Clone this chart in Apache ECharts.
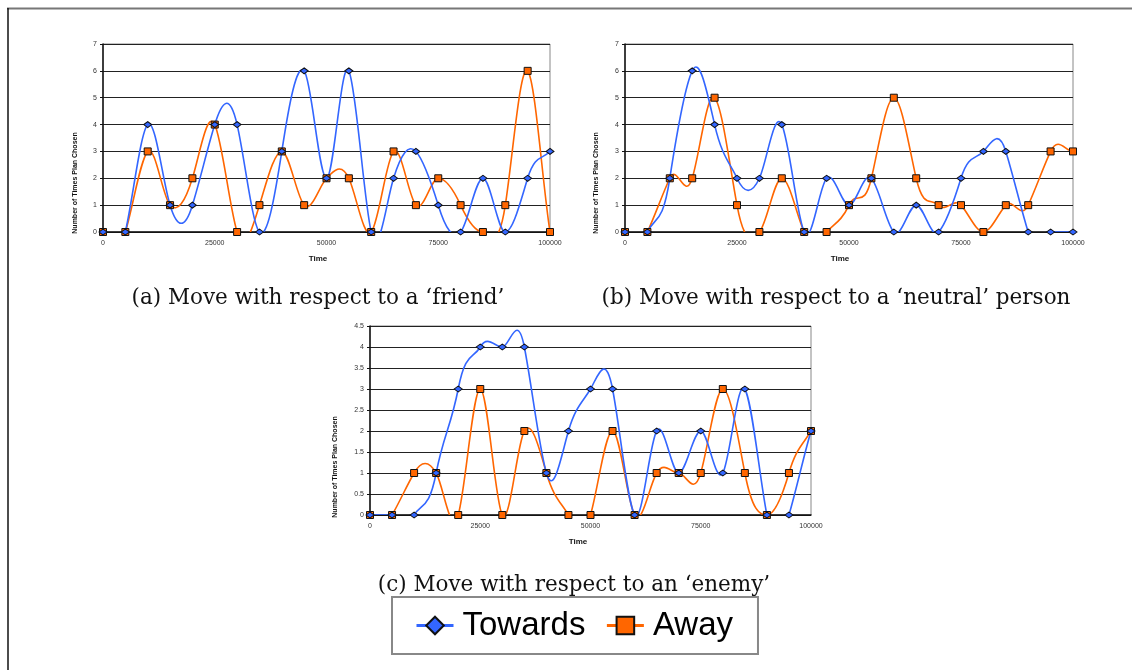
<!DOCTYPE html>
<html>
<head>
<meta charset="utf-8">
<script src="https://cdn.jsdelivr.net/npm/echarts@6/dist/echarts.min.js"></script>
<style>
  html, body { margin: 0; padding: 0; background: #fff; }
  #chart { width: 1132px; height: 670px; }
</style>
</head>
<body>
<div id="chart"></div>
<script>
// Sample times (x axis), shared by all three panels
const times = [0, 5000, 10000, 15000, 20000, 25000, 30000, 35000, 40000, 45000, 50000,
               55000, 60000, 65000, 70000, 75000, 80000, 85000, 90000, 95000, 100000];

// (a) friend
const friendTowards = [0, 0, 4, 1, 1, 4, 4, 0, 3, 6, 2, 6, 0, 2, 3, 1, 0, 2, 0, 2, 3];
const friendAway    = [0, 0, 3, 1, 2, 4, 0, 1, 3, 1, 2, 2, 0, 3, 1, 2, 1, 0, 1, 6, 0];

// (b) neutral person
const neutralTowards = [0, 0, 2, 6, 4, 2, 2, 4, 0, 2, 1, 2, 0, 1, 0, 2, 3, 3, 0, 0, 0];
const neutralAway    = [0, 0, 2, 2, 5, 1, 0, 2, 0, 0, 1, 2, 5, 2, 1, 1, 0, 1, 1, 3, 3];

// (c) enemy
const enemyTowards = [0, 0, 0, 1, 3, 4, 4, 4, 1, 2, 3, 3, 0, 2, 1, 2, 1, 3, 0, 0, 2];
const enemyAway    = [0, 0, 1, 1, 0, 3, 0, 2, 1, 0, 0, 2, 0, 1, 1, 1, 3, 1, 0, 1, 2];

const xTickLabels = ['0', '25000', '50000', '75000', '100000'];
const captions = [
  '(a) Move with respect to a \u2018friend\u2019',
  '(b) Move with respect to a \u2018neutral\u2019 person',
  '(c) Move with respect to an \u2018enemy\u2019'
];
const seriesNames = ['Towards', 'Away'];

const BLUE = '#3366FF';
const ORANGE = '#FF6600';
// spreadsheet-style smoothing: horizontal handles stay at a third of the segment,
// vertical handles are stretched a little to give the familiar overshoot
const TENSION_X = 1 / 6;
const TENSION_Y = 0.3;
const tickFont = { fontFamily: 'Liberation Sans', fontSize: 7, color: '#333' };

const pairs = (vals) => vals.map((v, i) => [times[i], v]);

const grids = [
  { left: 103, top: 44, width: 447, height: 188 },
  { left: 625, top: 44, width: 448, height: 188 },
  { left: 370, top: 326, width: 441, height: 189 }
];
const yMax = [7, 7, 4.5];
const yStep = [1, 1, 0.5];
const panels = [
  [friendTowards, friendAway],
  [neutralTowards, neutralAway],
  [enemyTowards, enemyAway]
];

const xAxes = grids.map((g, i) => ({
  type: 'value', gridIndex: i, min: 0, max: 100000, interval: 25000,
  axisLine: { show: true, lineStyle: { color: '#111', width: 1.5 } },
  axisTick: { show: false },
  splitLine: { show: false },
  axisLabel: Object.assign({ margin: 8, formatter: (v) => xTickLabels[Math.round(v / 25000)] }, tickFont)
}));

const yAxes = grids.map((g, i) => ({
  type: 'value', gridIndex: i, min: 0, max: yMax[i], interval: yStep[i],
  axisLine: { show: true, lineStyle: { color: '#111', width: 1.5 } },
  axisTick: { show: true, length: 3, lineStyle: { color: '#111' } },
  splitLine: { show: true, lineStyle: { color: '#222', width: 1 } },
  axisLabel: Object.assign({ margin: 6 }, tickFont)
}));

// Markers: plain line series whose own stroke is hidden (curve drawn separately)
function markerSeries(name, vals, gi, color, symbol, size, z) {
  return {
    name: name, type: 'line', xAxisIndex: gi, yAxisIndex: gi,
    data: pairs(vals), z: z,
    symbol: symbol, symbolSize: size, showAllSymbol: true,
    lineStyle: { color: color, width: 1.5, opacity: 0 },
    itemStyle: { color: color, borderColor: '#111', borderWidth: 1 }
  };
}

// Smoothed curve: one cubic Bezier per segment, tangents from neighbouring points
function curveSeries(name, vals, gi, color, z) {
  const last = vals.length - 1;
  return {
    name: name, type: 'custom', xAxisIndex: gi, yAxisIndex: gi,
    data: pairs(vals), clip: true, silent: true, z: z,
    renderItem: function (params, api) {
      const i = params.dataIndex;
      if (i >= last) return null;
      const pt = (j) => {
        const k = Math.max(0, Math.min(last, j));
        return api.coord([times[k], vals[k]]);
      };
      const p0 = pt(i - 1), p1 = pt(i), p2 = pt(i + 1), p3 = pt(i + 2);
      const sx = (p2[0] - p1[0]) / 3;
      return {
        type: 'bezierCurve',
        shape: {
          x1: p1[0], y1: p1[1], x2: p2[0], y2: p2[1],
          cpx1: p1[0] + sx,
          cpy1: p1[1] + (p2[1] - p0[1]) * TENSION_Y,
          cpx2: p2[0] - sx,
          cpy2: p2[1] - (p3[1] - p1[1]) * TENSION_Y
        },
        style: { stroke: color, lineWidth: 1.6, fill: null }
      };
    }
  };
}

const series = [];
panels.forEach((p, i) => {
  series.push(markerSeries('Towards', p[0], i, BLUE, 'diamond', [8, 6], 6));
  series.push(markerSeries('Away', p[1], i, ORANGE, 'rect', 7, 5));
  series.push(curveSeries('Away', p[1], i, ORANGE, 2));
  series.push(curveSeries('Towards', p[0], i, BLUE, 3));
});

const captionFont = '21.5px "DejaVu Serif"';
const axisTitleFont = 'bold 7px "Liberation Sans"';
const timeFont = 'bold 8px "Liberation Sans"';

function text(x, y, str, font, rotation) {
  return {
    type: 'text', x: x, y: y, rotation: rotation || 0,
    style: { text: str, font: font, fill: '#111', align: 'center', verticalAlign: 'middle' }
  };
}

const graphics = [
  // page frame
  { type: 'line', shape: { x1: 7, y1: 8.5, x2: 1132, y2: 8.5 }, style: { stroke: '#777', lineWidth: 2 } },
  { type: 'line', shape: { x1: 8, y1: 8, x2: 8, y2: 670 }, style: { stroke: '#111', lineWidth: 1.5 } },
  // axis titles
  text(75, 183, 'Number of Times Plan Chosen', axisTitleFont, Math.PI / 2),
  text(596, 183, 'Number of Times Plan Chosen', axisTitleFont, Math.PI / 2),
  text(335, 467, 'Number of Times Plan Chosen', axisTitleFont, Math.PI / 2),
  text(318, 259, 'Time', timeFont),
  text(840, 259, 'Time', timeFont),
  text(578, 542, 'Time', timeFont),
  // captions
  text(318, 298, captions[0], captionFont),
  text(836, 298, captions[1], captionFont),
  text(574, 585, captions[2], captionFont)
];

const chart = echarts.init(document.getElementById('chart'), null, { renderer: 'canvas' });
chart.setOption({
  animation: false,
  backgroundColor: '#fff',
  grid: grids.map((g) => Object.assign({ show: true, borderColor: '#888', borderWidth: 1, backgroundColor: 'transparent' }, g)),
  xAxis: xAxes,
  yAxis: yAxes,
  series: series,
  legend: {
    data: seriesNames,
    left: 392, top: 597,
    orient: 'horizontal',
    itemWidth: 37, itemHeight: 22, itemGap: 20,
    padding: [12, 25, 12, 23],
    borderColor: '#888', borderWidth: 2,
    lineStyle: { width: 3, opacity: 1 },
    textStyle: { fontFamily: 'Liberation Sans', fontSize: 33, color: '#000', padding: [0, 0, 0, 4] },
    selectedMode: false
  },
  graphic: graphics
});
</script>
</body>
</html>
